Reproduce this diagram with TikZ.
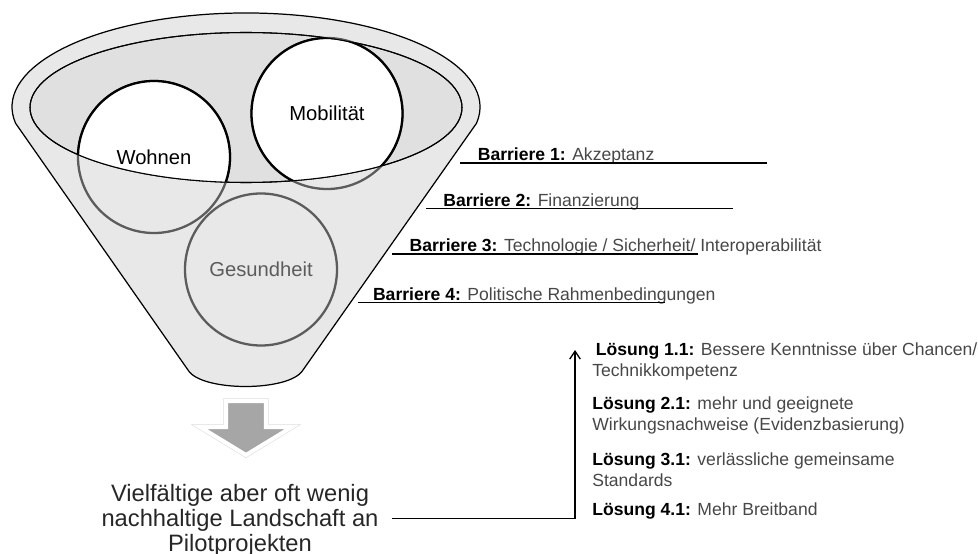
\documentclass[tikz,border=0pt]{standalone}
\usepackage{fontspec}
\setmainfont{Liberation Sans}
\usetikzlibrary{arrows.meta}
\definecolor{trichtergrau}{gray}{0.91}
\definecolor{randgrau}{gray}{0.88}
\definecolor{kreisgrau}{gray}{0.36}
\definecolor{schriftgrau}{gray}{0.28}
\definecolor{pfeilgrau}{gray}{0.65}

\begin{document}
\begin{tikzpicture}[x=0.02cm, y=-0.02cm,
		bereich/.style={font=\fontsize{11.5}{14}\selectfont},
		kreis/.style={line width=1.3pt},
		barriere/.style={anchor=base west, inner sep=0pt, text=schriftgrau, font=\fontsize{10}{12}\selectfont},
		loesung/.style={anchor=base west, inner sep=0pt, align=left, text=schriftgrau, font=\fontsize{10}{11.8}\selectfont},
		unterstrich/.style={line width=0.75pt}]
	\useasboundingbox (0,0) rectangle (978,554);

	\coordinate (wohnen) at (154,157);
	\coordinate (mobilitaet) at (327,113.5);
	\coordinate (gesundheit) at (261,269.5);
	\coordinate (oeffnung) at (246,107.5);

	\draw[fill=trichtergrau, line width=0.7pt] (188,370) -- (15.6,123.3) arc[start angle=170, end angle=370, x radius=234, y radius=94] -- (303,370) .. controls (290,392) and (201,392) .. (188,370) -- cycle;
	\draw[fill=randgrau, line width=0.6pt] (oeffnung) ellipse[x radius=216, y radius=75];

	\draw[kreis, kreisgrau] (wohnen) circle[radius=76];
	\draw[kreis, kreisgrau] (mobilitaet) circle[radius=75.5];
	\draw[kreis, kreisgrau] (gesundheit) circle[radius=76];

	\begin{scope}
		\clip (oeffnung) ellipse[x radius=216, y radius=75];
		\draw[kreis, fill=white] (wohnen) circle[radius=76];
		\draw[kreis, fill=white] (mobilitaet) circle[radius=75.5];
	\end{scope}
	\draw[line width=0.6pt] (oeffnung) ellipse[x radius=216, y radius=75];

	\node[bereich] (wohnentext) at (wohnen) {Wohnen};
	\node[bereich] (mobilitaettext) at (mobilitaet) {Mobilität};
	\node[bereich, text=kreisgrau] (gesundheittext) at (gesundheit) {Gesundheit};

	\path[preaction={draw=black!15, line width=2.9pt}, draw=white, line width=2.3pt, fill=pfeilgrau] (226,401) -- (266,401) -- (266,427) -- (292,427) -- (246,455) -- (200,427) -- (226,427) -- cycle;

	\node[barriere] (barriere1) at (477.5,160.7) {\textcolor{black}{\textbf{Barriere 1:}} Akzeptanz};
	\node[barriere] (barriere2) at (443,206.7) {\textcolor{black}{\textbf{Barriere 2:}} Finanzierung};
	\node[barriere] (barriere3) at (409.3,251.7) {\textcolor{black}{\textbf{Barriere 3:}} Technologie / Sicherheit/ Interoperabilität};
	\node[barriere] (barriere4) at (372.7,300.7) {\textcolor{black}{\textbf{Barriere 4:}} Politische Rahmenbedingungen};
	\coordinate (strich1) at (460,163);
	\coordinate (strich2) at (426,208.5);
	\coordinate (strich3) at (392,254);
	\coordinate (strich4) at (358,302.3);
	\draw[unterstrich] (strich1) -- ++(307,0);
	\draw[unterstrich] (strich2) -- ++(307,0);
	\draw[unterstrich] (strich3) -- ++(306,0);
	\draw[unterstrich] (strich4) -- ++(307,0);

	\node[loesung] (loesung1) at (592,376.7) {\hspace*{2pt}\textcolor{black}{\textbf{Lösung 1.1:}} Bessere Kenntnisse über Chancen/\\Technikkompetenz};
	\node[loesung] (loesung2) at (592,430) {\textcolor{black}{\textbf{Lösung 2.1:}} mehr und geeignete\\Wirkungsnachweise (Evidenzbasierung)};
	\node[loesung] (loesung3) at (592,486.7) {\textcolor{black}{\textbf{Lösung 3.1:}} verlässliche gemeinsame\\Standards};
	\node[loesung] (loesung4) at (592,515) {\textcolor{black}{\textbf{Lösung 4.1:}} Mehr Breitband};

	\node[align=center, text=black!85, font=\fontsize{13.5}{14.2}\selectfont] (landschaft) at (240,520) {Vielfältige aber oft wenig\\nachhaltige Landschaft an\\Pilotprojekten};
	\coordinate (knick) at (575,518.5);
	\coordinate (pfeilspitze) at (575,350);
	\draw[unterstrich, -{Straight Barb[length=4.5pt, width=6pt]}] ([xshift=4pt]landschaft.east |- knick) -- (knick) -- (pfeilspitze);
\end{tikzpicture}
\end{document}
